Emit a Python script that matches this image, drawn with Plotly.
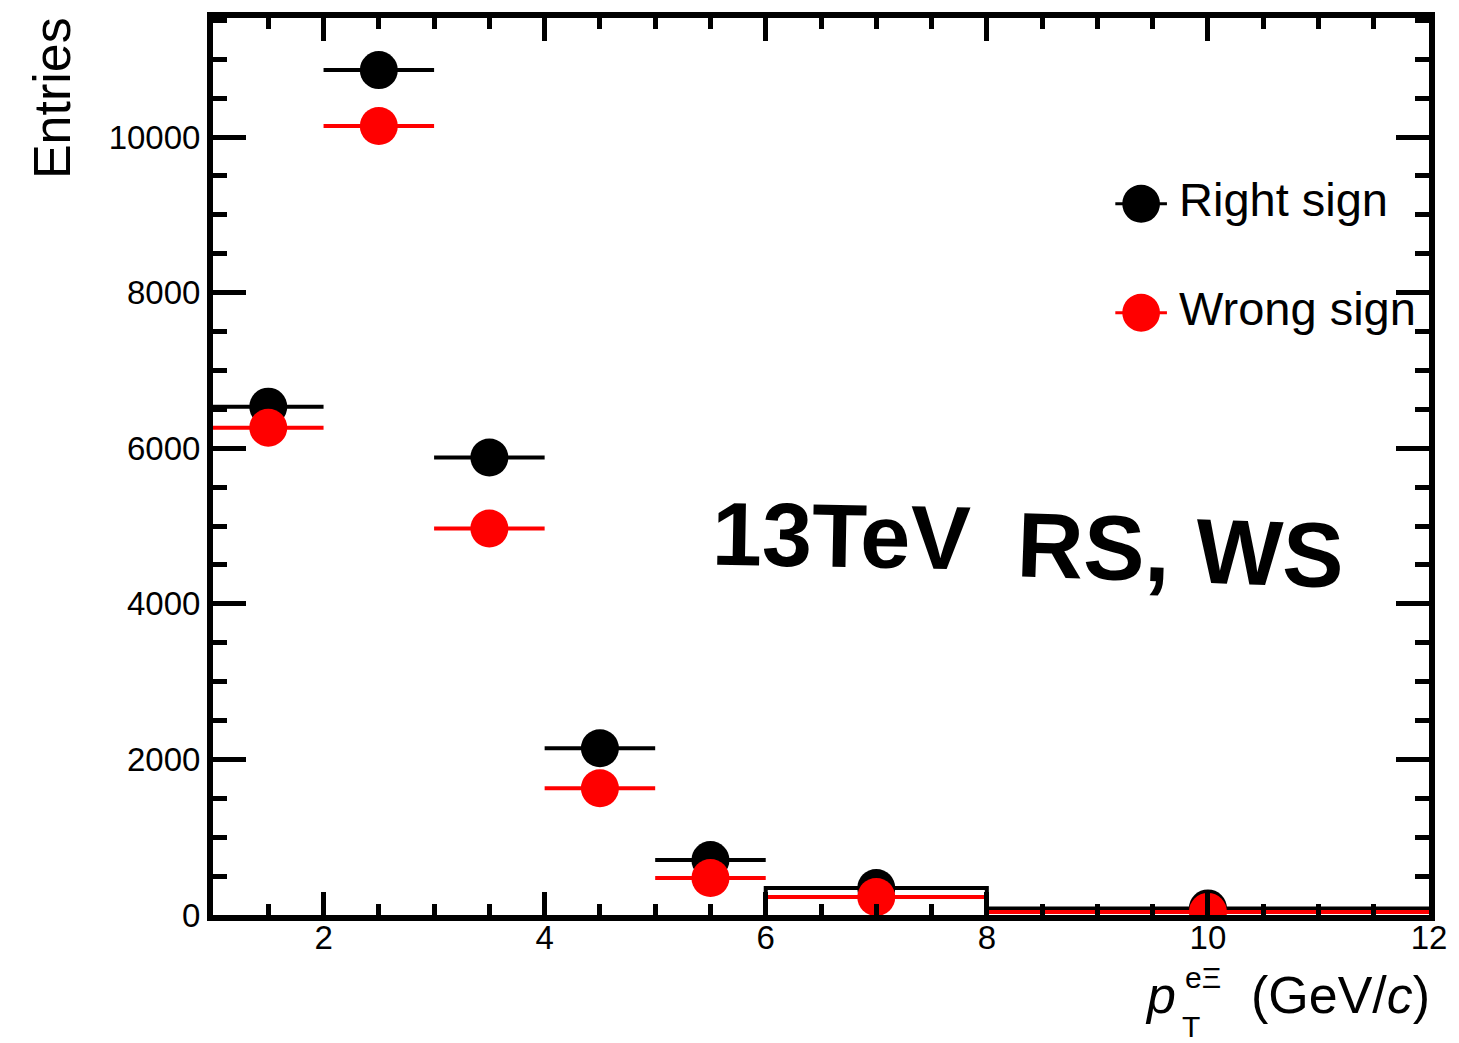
import plotly.graph_objects as go

# ---- data ----
bin_lo = [1, 2, 3, 4, 5, 6, 8]
bin_hi = [2, 3, 4, 5, 6, 8, 12]
right_sign = [6534, 10860, 5880, 2144, 706, 347, 85]
wrong_sign = [6264, 10141, 4968, 1630, 475, 231, 40]
x_tickvals = [2, 4, 6, 8, 10, 12]
y_tickvals = [0, 2000, 4000, 6000, 8000, 10000]
y_ticktext = ["0", "2000", "4000", "6000", "8000", "10000"]

centers = [(a + b) / 2 for a, b in zip(bin_lo, bin_hi)]
halfw = [(b - a) / 2 for a, b in zip(bin_lo, bin_hi)]

# page geometry (body margin removed by post_script)
W, H = 1459, 1043
PL, PR, PT, PB = 212, 1437, 17, 915          # plot area in target pixels
L, T, R, B = 213, PT, 19, H - PB
PW, PH = PR - PL, PB - PT


def px(x):
    return (x - PL) / PW


def py(y):
    return (PB - y) / PH


fig = go.Figure()

# black step outline of the 6-8 bin
i = 5
fig.add_trace(go.Scatter(
    x=[bin_lo[i], bin_lo[i], bin_hi[i], bin_hi[i]],
    y=[0, right_sign[i], right_sign[i], 0],
    mode="lines", line=dict(color="black", width=4),
    showlegend=False, hoverinfo="skip"))

for vals, col in [(right_sign, "black"), (wrong_sign, "#ff0000")]:
    fig.add_trace(go.Scatter(
        x=centers, y=vals, mode="markers",
        marker=dict(size=38, color=col),
        error_x=dict(type="data", array=halfw, color=col, thickness=4, width=0),
        showlegend=False))

F = "Liberation Sans, Arial, sans-serif"
axis_common = dict(
    showline=True, linecolor="black", linewidth=6, mirror="allticks",
    ticks="inside", tickcolor="black", tickwidth=5,
    showgrid=False, zeroline=False, ticklabeloverflow="allow",
    tickfont=dict(family=F, size=33, color="black"),
)

fig.update_layout(
    width=W, height=H, autosize=False,
    margin=dict(l=L, r=R, t=T, b=B),
    paper_bgcolor="white", plot_bgcolor="white",
    xaxis=dict(range=[1, 12], tickvals=x_tickvals, ticklen=23, ticklabelstandoff=-12,
               minor=dict(dtick=0.5, ticklen=11, tickwidth=5, tickcolor="black", ticks="inside"),
               **axis_common),
    yaxis=dict(range=[0, 11530], tickvals=y_tickvals, ticktext=y_ticktext, ticklen=33,
               minor=dict(dtick=500, ticklen=14, tickwidth=5, tickcolor="black", ticks="inside"),
               **axis_common),
    font=dict(family=F, color="black"),
)


def note(text, x, y, size, xanchor="center", angle=0, family=F):
    return dict(text=text, x=px(x), y=py(y), xref="paper", yref="paper",
                xanchor=xanchor, yanchor="middle", textangle=angle,
                showarrow=False, font=dict(size=size, family=family, color="black"))


ann = [
    note("Entries", 50, 97, 52, angle=-90),
    note("<i>p</i>", 1167, 995, 52),
    note("eΞ", 1209, 978, 30),
    note("T", 1197, 1027, 30),
    note("(GeV/<i>c</i>)", 1440, 995, 52, xanchor="right"),
    note("Right sign", 1183, 199, 47, xanchor="left"),
    note("Wrong sign", 1183, 308, 47, xanchor="left"),
    note("<b>13TeV</b>", 845, 536, 90, angle=1),
    note("<b>RS, WS</b>", 1187, 550, 92, angle=2),
]
fig.update_layout(annotations=ann)

shapes = []
for yc, col in [(203, "black"), (312, "#ff0000")]:
    shapes.append(dict(type="line", xref="paper", yref="paper",
                       x0=px(1121), x1=px(1173), y0=py(yc), y1=py(yc),
                       line=dict(color=col, width=3)))
    shapes.append(dict(type="circle", xref="paper", yref="paper",
                       x0=px(1147 - 19), x1=px(1147 + 19), y0=py(yc + 19), y1=py(yc - 19),
                       fillcolor=col, line=dict(color=col, width=0)))
fig.update_layout(shapes=shapes)

fig.write_html("out.html",
               config={"displayModeBar": False, "responsive": False},
               post_script="document.body.style.margin='0px';document.body.style.overflow='hidden';")
